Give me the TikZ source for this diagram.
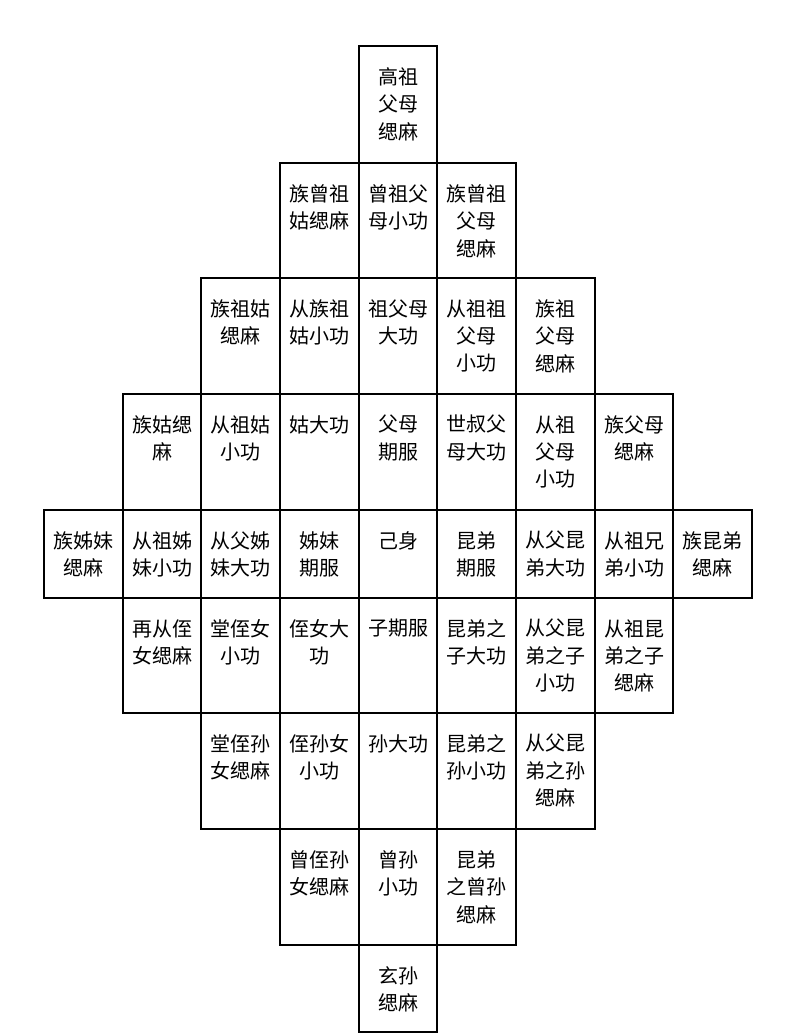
\documentclass[tikz,border=0pt]{standalone}
\usepackage{fontspec}
\setmainfont{Noto Sans CJK SC}

\begin{document}
\begin{tikzpicture}[x=0.75pt,y=-0.75pt,
    cellbox/.style={draw=black,line width=1.5pt},
    celltext/.style={anchor=north,align=center,inner sep=0pt,
        font=\fontsize{15}{20.6}\selectfont}]
    % page frame
    \useasboundingbox (0,0) rectangle (791,1033);

    % column c, row r, text of the cell
    \foreach \c/\r/\txt in {
        % the ancestors
        4/0/高祖\\父母\\缌麻,
        3/1/族曾祖\\姑缌麻,
        4/1/曾祖父\\母小功,
        5/1/族曾祖\\父母\\缌麻,
        2/2/族祖姑\\缌麻,
        3/2/从族祖\\姑小功,
        4/2/祖父母\\大功,
        5/2/从祖祖\\父母\\小功,
        6/2/族祖\\父母\\缌麻,
        1/3/族姑缌\\麻,
        2/3/从祖姑\\小功,
        3/3/姑大功,
        4/3/父母\\期服,
        5/3/世叔父\\母大功,
        6/3/从祖\\父母\\小功,
        7/3/族父母\\缌麻,
        % the own generation
        0/4/族姊妹\\缌麻,
        1/4/从祖姊\\妹小功,
        2/4/从父姊\\妹大功,
        3/4/姊妹\\期服,
        4/4/己身,
        5/4/昆弟\\期服,
        6/4/从父昆\\弟大功,
        7/4/从祖兄\\弟小功,
        8/4/族昆弟\\缌麻,
        % the descendants
        1/5/再从侄\\女缌麻,
        2/5/堂侄女\\小功,
        3/5/侄女大\\功,
        4/5/子期服,
        5/5/昆弟之\\子大功,
        6/5/从父昆\\弟之子\\小功,
        7/5/从祖昆\\弟之子\\缌麻,
        2/6/堂侄孙\\女缌麻,
        3/6/侄孙女\\小功,
        4/6/孙大功,
        5/6/昆弟之\\孙小功,
        6/6/从父昆\\弟之孙\\缌麻,
        3/7/曾侄孙\\女缌麻,
        4/7/曾孙\\小功,
        5/7/昆弟\\之曾孙\\缌麻,
        4/8/玄孙\\缌麻} {
        % rows are not all of the same height
        \pgfmathsetmacro{\xl}{44+78.67*\c}
        \pgfmathsetmacro{\yt}{{46,163,278,394,510,598,713,829,945,1032}[\r]}
        \pgfmathsetmacro{\yb}{{46,163,278,394,510,598,713,829,945,1032}[\r+1]}
        \draw[cellbox] (\xl,\yt) rectangle (\xl+78.67,\yb);
        \node[celltext] (cell-\r-\c) at (\xl+39.33,\yt+21) {\txt};
        }
\end{tikzpicture}
\end{document}
